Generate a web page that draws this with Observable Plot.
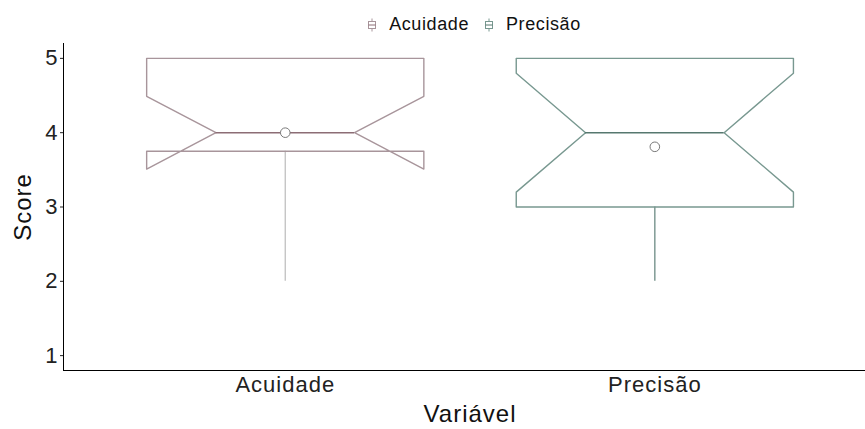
<!DOCTYPE html>
<html>
<head>
<meta charset="utf-8">
<script src="https://cdn.jsdelivr.net/npm/d3@7"></script>
<script src="https://cdn.jsdelivr.net/npm/@observablehq/plot@0.6"></script>
<style>
  body { margin: 0; background: #fff; font-family: "Liberation Sans", Arial, sans-serif; }
  #legend { height: 34px; display: flex; justify-content: center; align-items: center; font-size: 18px; letter-spacing: 0.6px; color: #111; padding-left: 80px; box-sizing: border-box; padding-top: 15px; }
  .item { display: flex; align-items: center; margin-right: 12px; }
  .item:last-child { margin-right: 0; }
  .key { width: 16px; display: flex; justify-content: center; margin-right: 9px; }
</style>
</head>
<body>
<div id="legend"></div>
<div id="chart"></div>
<script>
// ---- data ----
const categories = ["Acuidade", "Precisão"];
const q1 = [3.75, 3.0];
const medians = [4.0, 4.0];
const q3 = [5.0, 5.0];
const whiskerLow = [2.0, 2.0];
const whiskerHigh = [5.0, 5.0];
const notchLow = [3.51, 3.2];
const notchHigh = [4.49, 4.8];
const means = [4.0, 3.81];
const yTicks = [1, 2, 3, 4, 5];

// ---- styles ----
const boxColors = ["#a8959b", "#789890"];
const medianColors = ["#8c6d75", "#56786f"];
const whiskerColors = ["#c0c0c0", "#6c8b84"];
const halfWidth = 0.375;
const notchHalf = halfWidth * 0.5;

// build notched box outlines from stats
const outline = [];
categories.forEach((c, i) => {
  const x = i + 1;
  const pts = [
    [-halfWidth, q3[i]], [-halfWidth, notchHigh[i]], [-notchHalf, medians[i]],
    [-halfWidth, notchLow[i]], [-halfWidth, q1[i]], [halfWidth, q1[i]],
    [halfWidth, notchLow[i]], [notchHalf, medians[i]], [halfWidth, notchHigh[i]],
    [halfWidth, q3[i]], [-halfWidth, q3[i]]
  ];
  pts.forEach(([dx, y]) => outline.push({cat: c, x: x + dx, y}));
});
const stats = categories.map((c, i) => ({
  cat: c, x: i + 1, q1: q1[i], med: medians[i], q3: q3[i],
  lo: whiskerLow[i], hi: whiskerHigh[i], mean: means[i]
}));

const font = "'Liberation Sans', Arial, sans-serif";
const yDomain = [0.8, 5.2];
const xDomain = [0.4, 2.57];

const chart = Plot.plot({
  width: 865,
  height: 395,
  marginLeft: 63,
  marginRight: 0,
  marginTop: 9,
  marginBottom: 59,
  style: {fontFamily: font, background: "#fff", letterSpacing: "1px"},
  x: {type: "linear", domain: xDomain},
  y: {domain: yDomain},
  color: {domain: categories, range: boxColors},
  marks: [
    Plot.frame({anchor: "left", stroke: "#000", strokeWidth: 1}),
    Plot.frame({anchor: "bottom", stroke: "#000", strokeWidth: 1}),
    Plot.axisY({ticks: yTicks, tickSize: 3, tickPadding: 2, fontSize: 22, label: null, color: "#222", tickFormat: d3.format("d")}),
    Plot.axisX({ticks: [1, 2], tickSize: 0, tickPadding: 6, fontSize: 22, label: null, color: "#222",
      tickFormat: d => categories[d - 1]}),
    // whiskers
    Plot.ruleX(stats, {x: "x", y1: "lo", y2: "q1", stroke: (d, i) => whiskerColors[i], strokeWidth: 1.3}),
    Plot.ruleX(stats, {x: "x", y1: "q3", y2: "hi", stroke: (d, i) => whiskerColors[i], strokeWidth: 1.3}),
    // notched box
    Plot.line(outline, {x: "x", y: "y", z: "cat", stroke: "cat", strokeWidth: 1.4, curve: "linear"}),
    // median
    Plot.ruleY(stats, {y: "med", x1: d => d.x - notchHalf, x2: d => d.x + notchHalf, stroke: (d, i) => medianColors[i], strokeWidth: 1.6}),
    // mean
    Plot.dot(stats, {x: "x", y: "mean", r: 4.8, stroke: "#7a7a7a", fill: "#fff", strokeWidth: 1}),
    // axis titles
    Plot.text(["Score"], {frameAnchor: "left", textAnchor: "middle", lineAnchor: "middle", dx: -40, rotate: -90, fontSize: 24, fill: "#111"}),
    Plot.text(["Variável"], {x: [(0.4 + 2.6) / 2], frameAnchor: "bottom", textAnchor: "middle", lineAnchor: "middle", dy: 44, fontSize: 24, fill: "#111"})
  ]
});
document.getElementById("chart").appendChild(chart);

// legend
const legend = document.getElementById("legend");
categories.forEach((c, i) => {
  const item = document.createElement("div");
  item.className = "item";
  item.innerHTML = `<div class="key"><svg width="8" height="14" viewBox="0 0 8 14">
    <line x1="4" y1="0.5" x2="4" y2="13.5" stroke="${boxColors[i]}" stroke-width="1"/>
    <rect x="0.5" y="3.5" width="7" height="7" fill="#fff" stroke="${boxColors[i]}" stroke-width="1"/>
    <line x1="0.5" y1="7" x2="7.5" y2="7" stroke="${medianColors[i]}" stroke-width="1"/>
  </svg></div><span>${c}</span>`;
  legend.appendChild(item);
});
</script>
</body>
</html>
